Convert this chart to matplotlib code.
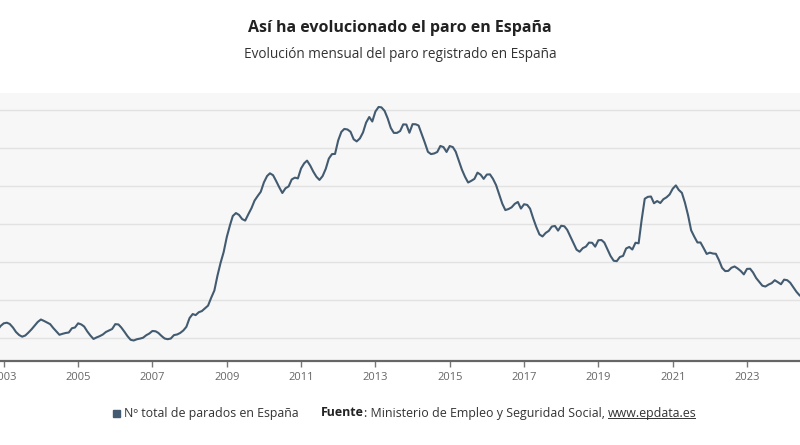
import matplotlib
matplotlib.use("Agg")
import matplotlib.pyplot as plt
import matplotlib.dates as mdates
import pandas as pd

# paro registrado, miles de personas, mensual desde nov 2002
parados_2002_2007 = [
    2105, 2158,
    2193, 2201, 2184, 2138, 2079, 2039, 2017, 2033, 2072, 2114, 2164, 2211,
    2243, 2224, 2204, 2182, 2132, 2086, 2042, 2055, 2066, 2072, 2128, 2138,
    2193, 2178, 2151, 2086, 2033, 1987, 2007, 2024, 2046, 2079, 2099, 2118,
    2182, 2178, 2138, 2082, 2024, 1976, 1967, 1983, 1992, 2003, 2036, 2058,
    2092, 2088, 2066, 2026, 1993, 1984, 1993, 2038, 2046, 2066, 2099, 2147,
]
parados_2008_2015 = [
    2262, 2315, 2301, 2339, 2354, 2390, 2426, 2530, 2625, 2818, 2989, 3129,
    3328, 3482, 3605, 3644, 3620, 3565, 3545, 3629, 3709, 3808, 3869, 3924,
    4048, 4131, 4167, 4142, 4066, 3982, 3908, 3970, 3995, 4086, 4110, 4100,
    4231, 4299, 4334, 4269, 4190, 4122, 4080, 4131, 4227, 4361, 4420, 4422,
    4600, 4712, 4751, 4744, 4714, 4615, 4587, 4626, 4705, 4834, 4908, 4849,
    4981, 5040, 5035, 4989, 4891, 4764, 4699, 4699, 4724, 4811, 4809, 4701,
    4814, 4812, 4796, 4684, 4572, 4450, 4420, 4428, 4448, 4527, 4512, 4448,
    4526, 4512, 4452, 4333, 4215, 4120, 4046, 4068, 4094, 4176, 4149, 4094,
]
parados_2016_2024 = [
    4151, 4153, 4095, 4011, 3891, 3767, 3683, 3697, 3720, 3765, 3790, 3703,
    3760, 3751, 3702, 3573, 3461, 3363, 3336, 3382, 3410, 3467, 3474, 3413,
    3477, 3470, 3423, 3336, 3252, 3162, 3135, 3182, 3203, 3255, 3253, 3202,
    3286, 3289, 3255, 3164, 3079, 3016, 3011, 3066, 3080, 3178, 3198, 3164,
    3253, 3246, 3549, 3832, 3857, 3862, 3773, 3802, 3776, 3826, 3851, 3888,
    3964, 4008, 3949, 3910, 3781, 3614, 3417, 3333, 3257, 3257, 3182, 3106,
    3123, 3111, 3108, 3023, 2923, 2880, 2883, 2924, 2941, 2915, 2881, 2837,
    2909, 2911, 2863, 2789, 2739, 2688, 2677, 2703, 2722, 2760, 2734, 2707,
    2768, 2760, 2727, 2667, 2608, 2561,
]
primer_mes = "2002-11-01"
anios_eje = list(range(2003, 2024, 2))

titulo = "Así ha evolucionado el paro en España"
subtitulo = "Evolución mensual del paro registrado en España"
serie = "Nº total de parados en España"

parados = parados_2002_2007 + parados_2008_2015 + parados_2016_2024
fechas = pd.date_range(primer_mes, periods=len(parados), freq="MS")

LINE = "#435b70"
plt.rcParams["font.family"] = ["Open Sans", "DejaVu Sans"]

fig = plt.figure(figsize=(8, 4.45), dpi=100)
ax = fig.add_axes([0, 1 - 361 / 445, 1, (361 - 93) / 445])
ax.set_facecolor("#f7f7f7")
ax.plot(fechas, parados, color=LINE, lw=1.5, solid_joinstyle="round")

ax.set_xlim(pd.Timestamp("2002-11-25"), pd.Timestamp("2024-06-05"))
ax.set_ylim(1697, 5224)
ax.set_yticks(range(2000, 5001, 500))
ax.yaxis.grid(True, color="#e2e2e2", lw=1)
ax.set_axisbelow(True)
ax.tick_params(axis="y", left=False, labelleft=False)

ax.set_xticks([pd.Timestamp(f"{a}-01-01") for a in anios_eje])
ax.xaxis.set_major_formatter(mdates.DateFormatter("%Y"))
ax.tick_params(axis="x", direction="out", length=4, width=1, color="#777777",
               labelcolor="#666666", labelsize=8, pad=4)
for s in ("top", "left", "right"):
    ax.spines[s].set_visible(False)
ax.spines["bottom"].set_color("#666666")
ax.spines["bottom"].set_linewidth(1.6)

fig.text(0.5, 1 - 28 / 445, titulo, ha="center", va="center",
         fontsize=11.5, fontweight="bold", color="#222222")
fig.text(0.5, 1 - 55 / 445, subtitulo, ha="center", va="center",
         fontsize=9.8, color="#333333")

# leyenda y fuente
fs = 8.9
ly = 1 - 413 / 445
fig.patches.append(plt.Rectangle((113 / 800, ly - 3.5 / 445), 7 / 800, 7 / 445,
                                 transform=fig.transFigure, color=LINE))
fig.text(124 / 800, ly, serie, ha="left", va="center", fontsize=fs, color="#333333")

r = fig.canvas.get_renderer()
t = fig.text(321 / 800, ly, "Fuente", ha="left", va="center", fontsize=fs,
             fontweight="bold", color="#222222")
x = t.get_window_extent(r).x1 / 800
t = fig.text(x, ly, ": Ministerio de Empleo y Seguridad Social, ", ha="left",
             va="center", fontsize=fs, color="#333333")
x = t.get_window_extent(r).x1 / 800
t = fig.text(x, ly, "www.epdata.es", ha="left", va="center", fontsize=fs,
             color="#333333")
bb = t.get_window_extent(r)
fig.lines.append(plt.Line2D([bb.x0 / 800, (bb.x1 - 2) / 800], [(bb.y0 + 1.5) / 445] * 2,
                            transform=fig.transFigure, color="#333333", lw=0.7))

fig.savefig("out.png", dpi=100)
